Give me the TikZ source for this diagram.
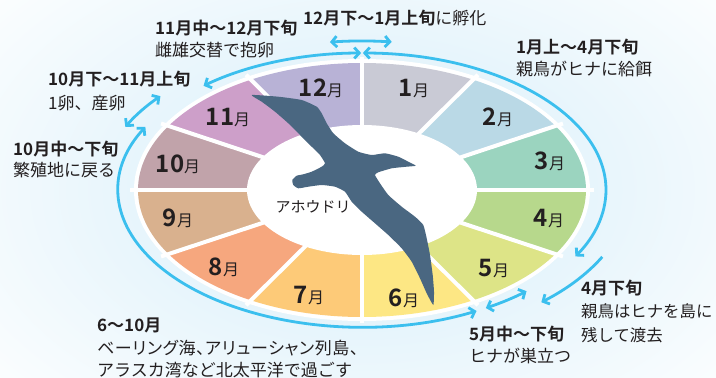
\documentclass[tikz,border=0pt]{standalone}
\usepackage{fontspec}
\setmainfont{Noto Sans CJK JP}[BoldFont={Noto Sans CJK JP Bold}]
\newfontfamily\jpprop{Noto Sans CJK JP}[RawFeature=+palt, LetterSpace=3.5]
\usetikzlibrary{arrows.meta}

\definecolor{bgblue}{HTML}{D4EDF9}
\definecolor{arcblue}{HTML}{3BBFEE}
\definecolor{bird}{HTML}{4A6781}
\definecolor{txt}{HTML}{231F20}
\definecolor{m1}{HTML}{C9CAD5}
\definecolor{m2}{HTML}{BAD9E6}
\definecolor{m3}{HTML}{9BD4BF}
\definecolor{m4}{HTML}{B7D88C}
\definecolor{m5}{HTML}{DDE487}
\definecolor{m6}{HTML}{FDE784}
\definecolor{m7}{HTML}{FDCA78}
\definecolor{m8}{HTML}{F6A77E}
\definecolor{m9}{HTML}{D9B18E}
\definecolor{m10}{HTML}{C1A3AA}
\definecolor{m11}{HTML}{CD9FC9}
\definecolor{m12}{HTML}{B8B2D6}

\tikzset{
  lbl/.style={anchor=west, inner sep=0pt, text=txt, font=\fontsize{17}{22}\selectfont},
  hd/.style={lbl, font=\fontsize{17}{22}\selectfont\bfseries},
  mon/.style={inner sep=0pt, text=txt},
  tip/.tip={Straight Barb[length=5pt, width=11pt]},
  span/.style={draw=arcblue, line width=2.8pt, tip-tip},
  onehead/.style={draw=arcblue, line width=2.8pt, -tip},
}
\newcommand{\mlab}[1]{{\fontsize{24}{24}\selectfont\bfseries #1}{\fontsize{16}{16}\selectfont 月}}

\begin{document}
\begin{tikzpicture}[x=1pt, y=-1pt]
\useasboundingbox (0,0) rectangle (716,378);
\clip (0,0) rectangle (716,378);

% soft blue background
\shade[inner color=bgblue, outer color=white] (362,190) ellipse[x radius=520, y radius=330];

\begin{scope}[shift={(362,190)}]
  % white rim of the calendar ring
  \fill[white] (0,0) ellipse[x radius=228, y radius=131];
  % twelve month sectors (angles run clockwise from the top)
  \foreach \m in {1,...,12}{
    \fill[m\m] (0,0) -- ({30*\m-120}:224 and 127)
      arc[start angle={30*\m-120}, end angle={30*\m-90}, x radius=224, y radius=127] -- cycle;
  }
  \foreach \a in {0,30,...,330}{
    \draw[white, line width=4pt] (0,0) -- (\a:232 and 133);
  }
  \fill[white] (0,0) ellipse[x radius=115, y radius=65];

  % timeline arcs
  \coordinate (aA) at (-97:263 and 149);
  \coordinate (aB) at (-89.8:244 and 137);
  \coordinate (aC) at (26.3:268 and 151);
  \coordinate (aD) at (47.6:244 and 137);
  \coordinate (aE) at (62:244 and 137);
  \coordinate (aF) at (-154.6:262 and 147);
  \coordinate (aG) at (-130.5:244 and 137);
  \draw[span] (aA) arc[start angle=-97, end angle=-83.5, x radius=263, y radius=149];
  \draw[span] (aB) arc[start angle=-89.8, end angle=29, x radius=244, y radius=137];
  \draw[onehead] (aC) arc[start angle=26.3, end angle=48, x radius=268, y radius=151];
  \draw[span] (aD) arc[start angle=47.6, end angle=59.5, x radius=244, y radius=137];
  \draw[span] (aE) arc[start angle=62, end angle=207.4, x radius=244, y radius=137];
  \draw[span] (aF) arc[start angle=-154.6, end angle=-140.3, x radius=262, y radius=147];
  \draw[span] (aG) arc[start angle=-130.5, end angle=-90.2, x radius=244, y radius=137];
\end{scope}

% month labels
\node[mon] (n1)  at (414,88)  {\mlab{1}};
\node[mon] (n2)  at (498,117) {\mlab{2}};
\node[mon] (n3)  at (550,161) {\mlab{3}};
\node[mon] (n4)  at (549,218) {\mlab{4}};
\node[mon] (n5)  at (494,268) {\mlab{5}};
\node[mon] (n6)  at (404,298) {\mlab{6}};
\node[mon] (n7)  at (309,295) {\mlab{7}};
\node[mon] (n8)  at (224,267) {\mlab{8}};
\node[mon] (n9)  at (178,218) {\mlab{9}};
\node[mon] (n10) at (178,164) {\mlab{10}};
\node[mon] (n11) at (228,117) {\mlab{11}};
\node[mon] (n12) at (321,88)  {\mlab{12}};

% albatross silhouette
\fill[bird] plot[smooth cycle, tension=0.3] coordinates {
  (251.7,95) (278.3,96.7) (301.7,100) (316.7,106.7) (321.7,113.3) (326.7,123.3)
  (333.3,133.3) (345,143.3) (358.3,151.7) (371.7,155) (385,153.3) (398.3,156.7)
  (408.3,161.7) (415.7,165.7) (406.7,166.7) (391.7,168.3) (378.3,172.3) (375,175)
  (380,183.3) (388.3,195) (401.7,206.7) (415,216.7) (423.3,225) (426.7,238.3)
  (430,255) (432.7,275) (434,291.7) (433.3,305) (426.7,293.3) (420,278.3)
  (411.7,261.7) (401.7,248.3) (388.3,235) (375,223.3) (361.7,211.7) (351.7,201.7)
  (345,191.7) (335,186.7) (321.7,185) (308.3,186.7) (298.3,188.3) (293.3,185)
  (292.3,180) (296.7,175.7) (303.3,174.3) (311.7,171.7) (321.7,166.7) (325,163.3)
  (320,155) (311.7,146.7) (300,135) (288.3,123.3) (275,111.7) (261.7,101.7)};

\node[inner sep=0pt, text=txt, font=\fontsize{15}{15}\selectfont] (name) at (313,207) {アホウドリ};

% event captions
\node[lbl] (t1) at (303,18) {\textbf{12月下〜1月上旬}に孵化};
\node[hd]  (t2a) at (155,28) {11月中〜12月下旬};
\node[lbl] (t2b) at (155,50) {雌雄交替で抱卵};
\node[hd]  (t3a) at (516,47) {1月上〜4月下旬};
\node[lbl] (t3b) at (516,69) {親鳥がヒナに給餌};
\node[hd]  (t4a) at (48,79)  {10月下〜11月上旬};
\node[lbl] (t4b) at (48,103) {1卵、産卵};
\node[hd]  (t5a) at (13,149) {10月中〜下旬};
\node[lbl] (t5b) at (13,170) {繁殖地に戻る};
\node[hd]  (t6a) at (97,325) {6〜10月};
\node[lbl] (t6b) at (97,348) {\jpprop ベーリング海、アリューシャン列島、};
\node[lbl] (t6c) at (97,370) {アラスカ湾など北太平洋で過ごす};
\node[hd]  (t7a) at (581,288) {4月下旬};
\node[lbl, font=\fontsize{16.4}{22}\selectfont] (t7b) at (581,311) {親鳥はヒナを島に};
\node[lbl, font=\fontsize{16.4}{22}\selectfont] (t7c) at (581,335) {残して渡去};
\node[hd]  (t8a) at (469,334) {5月中〜下旬};
\node[lbl] (t8b) at (469,356) {ヒナが巣立つ};
\end{tikzpicture}
\end{document}
